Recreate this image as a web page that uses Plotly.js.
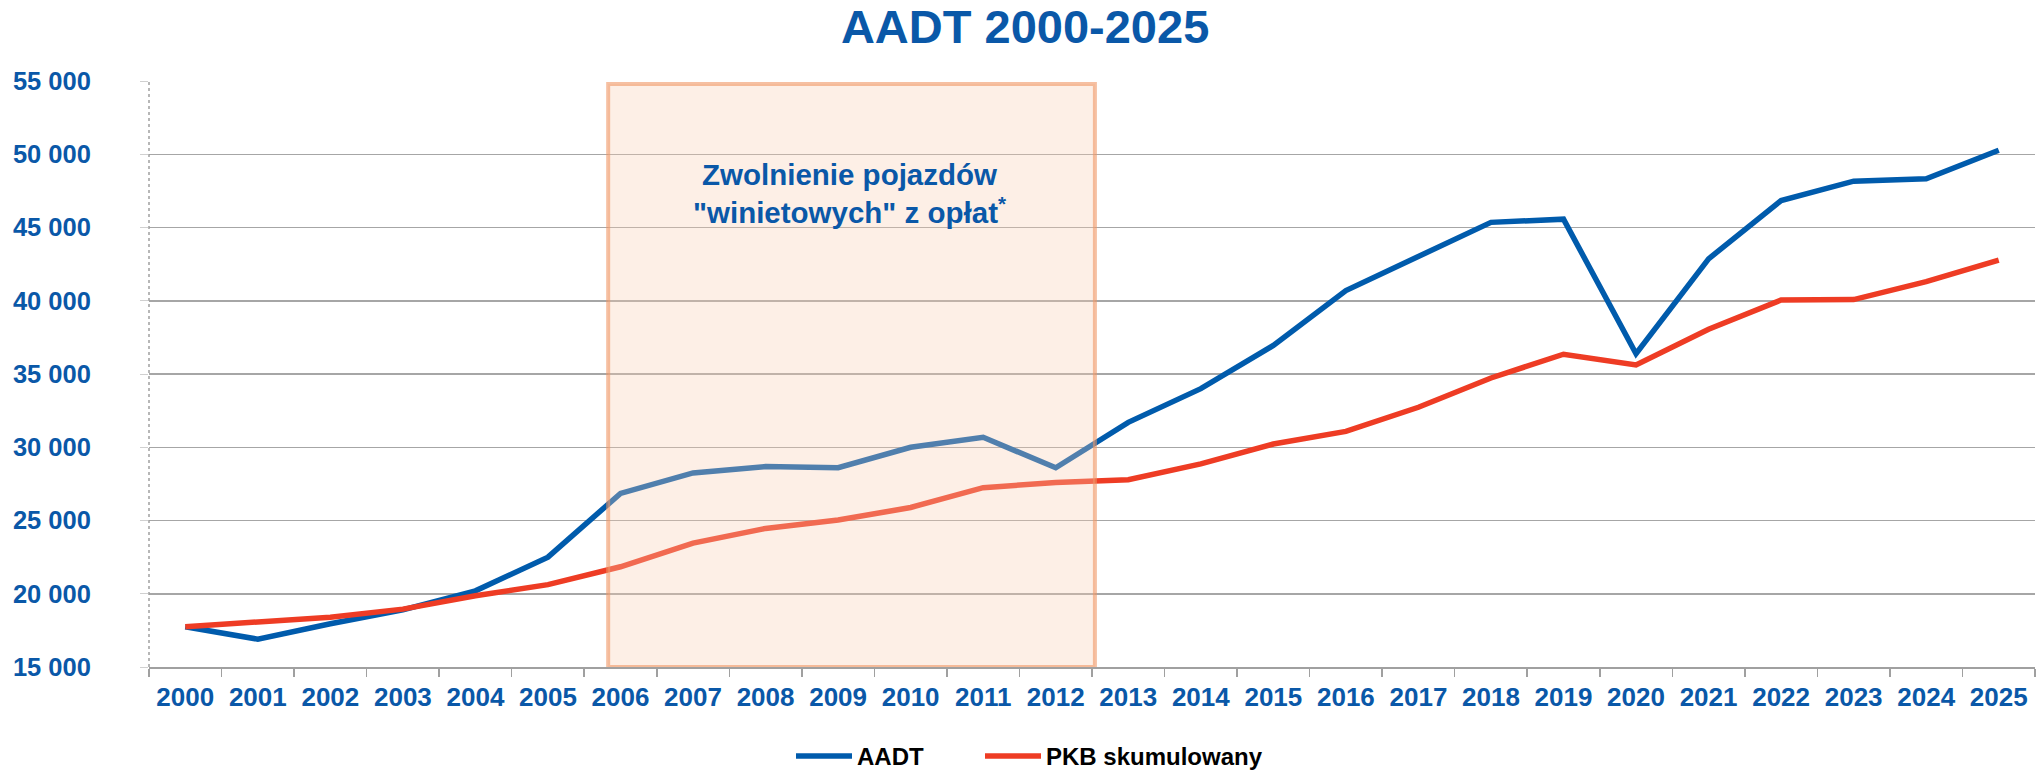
<!DOCTYPE html>
<html>
<head>
<meta charset="utf-8">
<script src="https://cdn.plot.ly/plotly-3.0.1.min.js"></script>
<style>
  html, body { margin: 0; padding: 0; background: #ffffff; }
  #chart { width: 2038px; height: 771px; }
</style>
</head>
<body>
<div id="chart"></div>
<script>
const years = ["2000","2001","2002","2003","2004","2005","2006","2007","2008","2009","2010","2011","2012",
               "2013","2014","2015","2016","2017","2018","2019","2020","2021","2022","2023","2024","2025"];
const aadt = [17750, 16900, 17950, 18900, 20200, 22500, 26850, 28250, 28680, 28600, 30000, 30680, 28600,
              31700, 34000, 36950, 40700, 43050, 45350, 45570, 36380, 42860, 46840, 48160, 48320, 50270];
const pkb  = [17750, 18050, 18400, 18950, 19860, 20620, 21840, 23460, 24460, 25030, 25890, 27240, 27590,
              27780, 28860, 30220, 31080, 32730, 34730, 36350, 35620, 38050, 40050, 40080, 41300, 42780];
const yTickVals = [15000, 20000, 25000, 30000, 35000, 40000, 45000, 50000, 55000];
const yTickText = ["15 000", "20 000", "25 000", "30 000", "35 000", "40 000", "45 000", "50 000", "55 000"];
const seriesNames = ["AADT", "PKB skumulowany"];
const titleText = "AADT 2000-2025";
const noteText = "Zwolnienie pojazdów<br>\"winietowych\" z opłat<sup>*</sup>";

const FONT = "Liberation Sans, Arial, sans-serif";
const BLUE_TXT = "#0A58A8";

const traces = [
  { x: years, y: aadt, type: "scatter", mode: "lines", name: seriesNames[0], legend: "legend",
    line: { color: "#005BAC", width: 5.5 }, hoverinfo: "skip" },
  { x: years, y: pkb, type: "scatter", mode: "lines", name: seriesNames[1], legend: "legend2",
    line: { color: "#EE3C24", width: 5.5 }, hoverinfo: "skip" }
];

const legendBase = {
  orientation: "h", xref: "container", yref: "container", xanchor: "left",
  y: 0.019, yanchor: "middle", font: { family: FONT, size: 24, color: "#000000", weight: "bold" },
  itemwidth: 56, bgcolor: "rgba(0,0,0,0)"
};

const layout = {
  width: 2038, height: 771,
  paper_bgcolor: "#ffffff", plot_bgcolor: "#ffffff",
  margin: { l: 149, r: 3, t: 81, b: 104 },
  font: { family: FONT, color: BLUE_TXT },
  title: { text: "<b>" + titleText + "</b>", font: { family: FONT, size: 47, color: BLUE_TXT },
           x: 0.503, xref: "container", xanchor: "center", y: 0.966, yref: "container", yanchor: "middle" },
  xaxis: {
    type: "category", range: [-0.5, 25.5], tickson: "boundaries",
    showgrid: false, showline: true, linecolor: "#A0A0A0", linewidth: 1.5,
    ticks: "outside", ticklen: 8, tickcolor: "#A0A0A0", tickwidth: 1.5,
    tickfont: { family: FONT, size: 26, color: BLUE_TXT, weight: "bold" },
    ticklabelstandoff: 6, fixedrange: true
  },
  yaxis: {
    range: [15000, 55000], tickvals: yTickVals, ticktext: yTickText,
    showgrid: true, gridcolor: "#A6A6A6", gridwidth: 1.5,
    showline: false, zeroline: false,
    ticks: "outside", ticklen: 8, tickcolor: "#D0D0D0", tickwidth: 1,
    tickfont: { family: FONT, size: 25.5, color: BLUE_TXT, weight: "bold" },
    ticklabelstandoff: 44, fixedrange: true
  },
  shapes: [
    { type: "line", xref: "paper", yref: "paper", x0: 0, x1: 0, y0: 0, y1: 1,
      line: { color: "#A0A0A0", width: 1.5, dash: "dot" }, layer: "above" },
    { type: "rect", xref: "x", yref: "y", x0: 5.83, x1: 12.54, y0: 15000, y1: 54800,
      fillcolor: "rgba(250,205,178,0.32)", line: { color: "rgba(240,150,100,0.6)", width: 4 },
      layer: "above" }
  ],
  annotations: [
    { xref: "x", yref: "y", x: 9.17, y: 47310, text: "<b>" + noteText + "</b>", showarrow: false,
      font: { family: FONT, size: 29.5, color: BLUE_TXT }, align: "center", xanchor: "center", yanchor: "middle" }
  ],
  showlegend: true,
  legend: Object.assign({}, legendBase, { x: 791 / 2038 }),
  legend2: Object.assign({}, legendBase, { x: 980 / 2038 })
};

Plotly.newPlot("chart", traces, layout, { staticPlot: true, displayModeBar: false });
</script>
</body>
</html>
